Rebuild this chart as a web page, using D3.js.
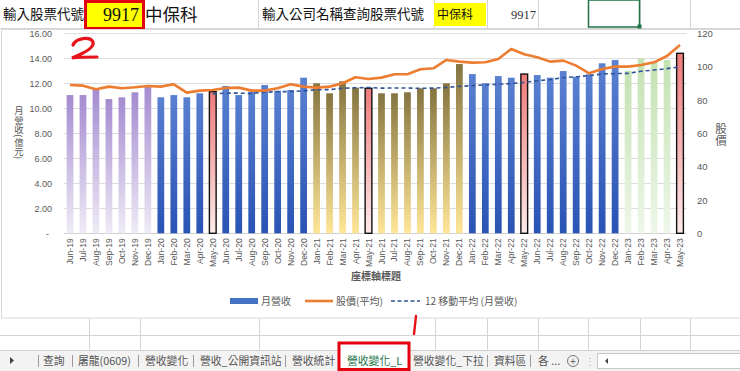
<!DOCTYPE html>
<html>
<head>
<meta charset="utf-8">
<script src="https://cdn.jsdelivr.net/npm/d3@7"></script>
<style>
  body { margin: 0; background: #fff; }
  svg { display: block; }
  text { font-family: "Liberation Sans", "Noto Sans CJK TC", sans-serif; }
  text.cjk { font-family: "Noto Sans CJK TC", sans-serif; }
  text.serif { font-family: "Liberation Serif", serif; }
  text.vert { writing-mode: vertical-rl; text-orientation: mixed; }
</style>
</head>
<body>
<svg id="chart" width="740" height="371"></svg>
<script>
// month labels (Jun-19 .. May-23)
const months = [
  'Jun-19','Jul-19','Aug-19','Sep-19','Oct-19','Nov-19','Dec-19',
  'Jan-20','Feb-20','Mar-20','Apr-20','May-20','Jun-20','Jul-20','Aug-20','Sep-20','Oct-20','Nov-20','Dec-20',
  'Jan-21','Feb-21','Mar-21','Apr-21','May-21','Jun-21','Jul-21','Aug-21','Sep-21','Oct-21','Nov-21','Dec-21',
  'Jan-22','Feb-22','Mar-22','Apr-22','May-22','Jun-22','Jul-22','Aug-22','Sep-22','Oct-22','Nov-22','Dec-22',
  'Jan-23','Feb-23','Mar-23','Apr-23','May-23'
];
// 月營收 (億元)
const revenue = [
  11.06,11.06,11.60,10.74,10.88,11.28,11.86,
  10.88,11.06,10.88,11.20,11.33,11.78,11.06,11.33,11.86,11.41,11.46,12.45,
  12.00,11.20,12.16,11.65,11.60,11.20,11.20,11.28,11.60,11.60,12.00,13.54,
  12.74,12.00,12.58,12.45,12.74,12.66,12.45,12.98,12.53,12.72,13.60,13.86,
  13.00,14.00,13.73,13.86,14.40
];
// 股價(平均)
const price = [
  89.0,88.6,86.4,88.0,87.0,87.6,88.4,
  88.0,89.4,84.4,85.6,86.0,87.2,87.4,85.6,85.6,87.0,89.4,88.0,
  87.4,88.0,90.0,93.6,92.6,93.4,95.4,95.4,98.4,99.0,104.0,103.0,
  102.4,102.6,104.6,110.6,107.4,105.6,103.0,103.6,100.6,96.0,98.6,100.0,
  100.0,101.0,102.6,106.4,113.0
];
const leftTicks = [0,2,4,6,8,10,12,14,16];
const rightTicks = [0,20,40,60,80,100,120];
const sheetTabs = ['查詢','屠龍(0609)','營收變化','營收_公開資訊站','營收統計','營收變化_L','營收變化_下拉','資料區','各 ...'];
const activeTab = '營收變化_L';

const svg = d3.select('#chart');
const W = 740, H = 371;
const plot = {left: 63.5, right: 686.5, top: 33.3, bottom: 233.3};

// ---------- spreadsheet background ----------
const grid = svg.append('g').attr('stroke', '#d4d4d4').attr('stroke-width', 1);
[258, 434, 487, 538, 588, 640, 690].forEach(x =>
  grid.append('line').attr('x1', x + .5).attr('x2', x + .5).attr('y1', 0).attr('y2', 28));
grid.append('line').attr('x1', 0).attr('x2', W).attr('y1', 28.5).attr('y2', 28.5);
[89, 140, 259, 435, 487, 538, 588, 640, 690].forEach(x =>
  grid.append('line').attr('x1', x + .5).attr('x2', x + .5).attr('y1', 318).attr('y2', 350));
grid.append('line').attr('x1', 0).attr('x2', W).attr('y1', 335.5).attr('y2', 335.5);

// top row cells
svg.append('rect').attr('x', 87).attr('y', 2).attr('width', 55).attr('height', 25).attr('fill', '#ffff00');
svg.append('rect').attr('x', 85.5).attr('y', 1.5).attr('width', 58).attr('height', 27)
  .attr('fill', 'none').attr('stroke', '#e3000f').attr('stroke-width', 3);
svg.append('rect').attr('x', 434).attr('y', 3).attr('width', 52).attr('height', 23).attr('fill', '#ffff00');
svg.append('rect').attr('x', 588.5).attr('y', 0).attr('width', 51).attr('height', 27)
  .attr('fill', 'none').attr('stroke', '#217346').attr('stroke-width', 1.5);
svg.append('rect').attr('x', 637.5).attr('y', 24.5).attr('width', 4).attr('height', 4).attr('fill', '#217346');

const topText = [
  {t: '輸入股票代號', x: 3, y: 19, s: 13.5},
  {t: '中保科', x: 145, y: 21, s: 17.5},
  {t: '輸入公司名稱查詢股票代號', x: 262, y: 19, s: 13.5},
  {t: '中保科', x: 437, y: 19, s: 12}
];
svg.selectAll('text.top').data(topText).join('text')
  .attr('class', 'top cjk')
  .attr('x', d => d.x).attr('y', d => d.y)
  .attr('font-size', d => d.s)
  .attr('fill', '#111').text(d => d.t);
svg.append('text').attr('class', 'serif').attr('x', 139).attr('y', 21).attr('text-anchor', 'end')
  .attr('font-size', 18).attr('fill', '#111').text('9917');
svg.append('text').attr('class', 'serif').attr('x', 536).attr('y', 19).attr('text-anchor', 'end')
  .attr('font-size', 12.5).attr('fill', '#333').text('9917');

// chart area frame
svg.append('rect').attr('x', 1.5).attr('y', 29.5).attr('width', W + 5).attr('height', 288.5)
  .attr('fill', '#fff').attr('stroke', '#d9d9d9');

// ---------- scales ----------
const x = d3.scaleBand().domain(months).range([plot.left, plot.right]).paddingInner(0.48).paddingOuter(0.24);
const y = d3.scaleLinear().domain([0, 16]).range([plot.bottom, plot.top]);
const y2 = d3.scaleLinear().domain([0, 120]).range([plot.bottom, plot.top]);

// gridlines
svg.append('g').selectAll('line').data(leftTicks.slice(1)).join('line')
  .attr('x1', plot.left).attr('x2', plot.right)
  .attr('y1', d => Math.round(y(d)) + .5).attr('y2', d => Math.round(y(d)) + .5)
  .attr('stroke', '#dedede');
svg.append('line').attr('x1', plot.left).attr('x2', plot.right)
  .attr('y1', Math.round(y(0)) + .5).attr('y2', Math.round(y(0)) + .5).attr('stroke', '#d0d0d0');

// gradients
const defs = svg.append('defs');
const grads = {
  g19: ['#a48bd0', '#efebf6'],
  g20: ['#5a80d1', '#2953b4'],
  g21: ['#857440', '#ffe698'],
  g22: ['#5a80d1', '#2953b4'],
  g23: ['#c4e2b2', '#eef7ea'],
  may: ['#ee7b7b', '#fdeaea']
};
Object.entries(grads).forEach(([id, c]) => {
  const g = defs.append('linearGradient').attr('id', id).attr('x1', 0).attr('x2', 0).attr('y1', 0).attr('y2', 1);
  g.append('stop').attr('offset', '0%').attr('stop-color', c[0]);
  g.append('stop').attr('offset', '100%').attr('stop-color', c[1]);
});
const isMay = m => m.startsWith('May');
const fillOf = m => isMay(m) ? 'url(#may)' : `url(#g${m.slice(-2)})`;

// bars
svg.append('g').selectAll('rect').data(months).join('rect')
  .attr('x', d => x(d)).attr('width', x.bandwidth())
  .attr('y', (d, i) => y(revenue[i])).attr('height', (d, i) => y(0) - y(revenue[i]))
  .attr('fill', d => fillOf(d))
  .attr('stroke', d => isMay(d) ? '#111' : 'none')
  .attr('stroke-width', 1.4);

// 12 month moving average trendline (like Excel's)
const ma = revenue.map((v, i) => i < 11 ? null : d3.mean(revenue.slice(i - 11, i + 1)));
const cx = d => x(d) + x.bandwidth() / 2;
svg.append('path')
  .datum(months.map((m, i) => [m, ma[i]]).filter(d => d[1] != null))
  .attr('fill', 'none').attr('stroke', '#2f5597').attr('stroke-width', 1.6)
  .attr('stroke-dasharray', '4,3')
  .attr('d', d3.line().x(d => cx(d[0])).y(d => y(d[1])));

// price line
svg.append('path')
  .datum(months.map((m, i) => [m, price[i]]))
  .attr('fill', 'none').attr('stroke', '#ed7d31').attr('stroke-width', 2.6)
  .attr('stroke-linejoin', 'round')
  .attr('d', d3.line().x(d => cx(d[0])).y(d => y2(d[1])));

// axes
const fmt = d => d === 0 ? '-' : d3.format('.2f')(d);
const yAxis = svg.append('g').attr('transform', 'translate(52,0)')
  .call(d3.axisLeft(y).tickValues(leftTicks).tickFormat(fmt).tickSize(0).tickPadding(0));
const y2Axis = svg.append('g').attr('transform', 'translate(697,0)')
  .call(d3.axisRight(y2).tickValues(rightTicks).tickSize(0).tickPadding(0));
const xAxis = svg.append('g').attr('transform', `translate(0,${plot.bottom})`)
  .call(d3.axisBottom(x).tickSize(0).tickPadding(0));
[yAxis, y2Axis, xAxis].forEach(a => {
  a.select('.domain').remove();
  a.selectAll('text').attr('fill', '#595959');
});
yAxis.selectAll('text').attr('font-size', 9);
yAxis.selectAll('.tick').filter(d => d === 0).select('text').attr('x', -3);
y2Axis.selectAll('text').attr('font-size', 9.5);
xAxis.selectAll('text').attr('font-size', 8.6)
  .attr('transform', 'rotate(-90)').attr('text-anchor', 'end')
  .attr('x', -5).attr('y', 0).attr('dy', '0.35em');

// axis titles in vertical writing (upright characters, turned brackets)
svg.append('text').attr('class', 'cjk vert').attr('x', 19).attr('y', 106)
  .attr('font-size', 9.4).attr('fill', '#595959').text('月營收(億元)');
svg.append('text').attr('class', 'cjk vert').attr('x', 721).attr('y', 123)
  .attr('font-size', 11.5).attr('fill', '#595959').text('股價');
svg.append('text').attr('class', 'cjk').attr('x', 376).attr('y', 280).attr('text-anchor', 'middle')
  .attr('font-size', 10).attr('font-weight', 'bold').attr('fill', '#595959').text('座標軸標題');

// legend
const lg = svg.append('g').attr('transform', 'translate(0,301)');
lg.append('rect').attr('x', 230).attr('y', -3).attr('width', 28).attr('height', 6).attr('fill', '#4472c4');
lg.append('line').attr('x1', 305).attr('x2', 333).attr('stroke', '#ed7d31').attr('stroke-width', 2.6);
lg.append('line').attr('x1', 391).attr('x2', 420).attr('stroke', '#2f5597').attr('stroke-width', 1.6)
  .attr('stroke-dasharray', '4,2.5');
[['月營收', 261], ['股價(平均)', 336], ['12 移動平均 (月營收)', 425]].forEach(([t, px]) =>
  lg.append('text').attr('class', 'cjk').attr('x', px).attr('y', 3.5)
    .attr('font-size', 10).attr('fill', '#595959').text(t));

// ---------- sheet tab bar ----------
const tb = svg.append('g');
tb.append('rect').attr('x', 0).attr('y', 350).attr('width', W).attr('height', 21).attr('fill', '#f3f3f3');
tb.append('line').attr('x1', 0).attr('x2', W).attr('y1', 350.5).attr('y2', 350.5).attr('stroke', '#d0d0d0');
tb.append('path').attr('d', 'M10,357 L14,360.5 L10,364 Z').attr('fill', '#444');
const tabX = [43, 78, 145, 200, 292, 347, 413, 494, 538];
tb.append('rect').attr('x', 340).attr('y', 350).attr('width', 68).attr('height', 21).attr('fill', '#fff');
sheetTabs.forEach((t, i) => {
  tb.append('text').attr('class', 'cjk').attr('x', tabX[i]).attr('y', 365)
    .attr('font-size', 10.8).attr('fill', t === activeTab ? '#217346' : '#555').text(t);
});
[38, 72, 138, 193, 285, 487, 530].forEach(px =>
  tb.append('line').attr('x1', px + .5).attr('x2', px + .5).attr('y1', 355).attr('y2', 367).attr('stroke', '#9a9a9a'));
tb.append('circle').attr('cx', 573).attr('cy', 361).attr('r', 5.5).attr('fill', 'none').attr('stroke', '#777');
tb.append('text').attr('x', 573).attr('y', 364.5).attr('text-anchor', 'middle').attr('font-size', 10).attr('fill', '#666').text('+');
tb.append('text').attr('x', 590).attr('y', 365).attr('text-anchor', 'middle').attr('font-size', 10).attr('fill', '#aaa').text('⋮');
tb.append('rect').attr('x', 597.5).attr('y', 353.5).attr('width', 150).attr('height', 15).attr('fill', '#fff').attr('stroke', '#c8c8c8');
tb.append('path').attr('d', 'M605,361 L608,358 L608,364 Z').attr('fill', '#444');
tb.append('rect').attr('x', 339).attr('y', 343).attr('width', 70).attr('height', 26.5)
  .attr('fill', 'none').attr('stroke', '#e3000f').attr('stroke-width', 3);

// hand-written marks
svg.append('path').attr('d', 'M73,45 C76,38 90,36 93,42 C95,48 82,54 72,58 C80,57 90,57 97,57')
  .attr('fill', 'none').attr('stroke', '#e8141b').attr('stroke-width', 3.2).attr('stroke-linecap', 'round');
svg.append('path').attr('d', 'M416,316 L414,334')
  .attr('fill', 'none').attr('stroke', '#e8141b').attr('stroke-width', 2.4).attr('stroke-linecap', 'round');
</script>
</body>
</html>
